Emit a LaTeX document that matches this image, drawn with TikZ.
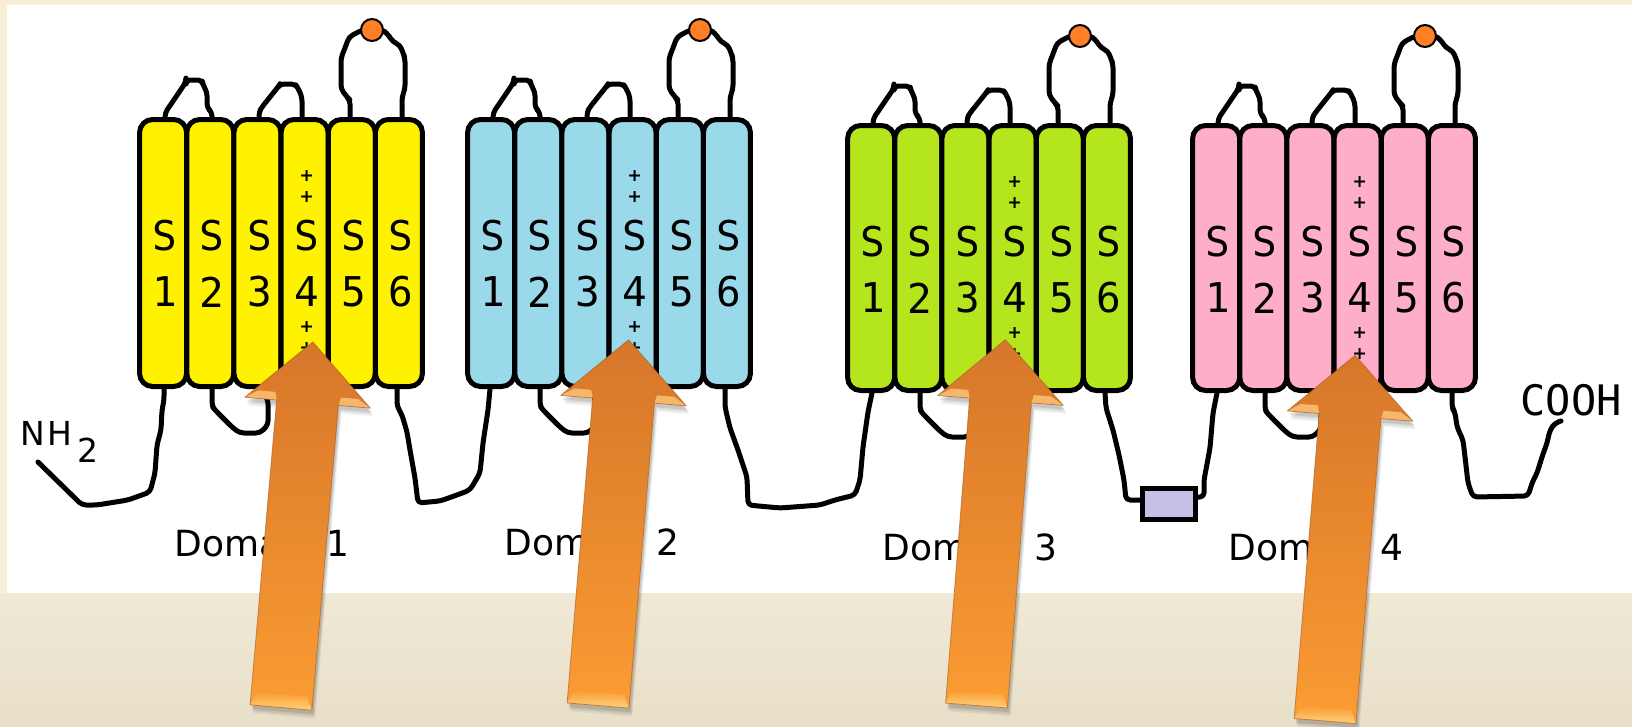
\documentclass[tikz,border=0pt]{standalone}
\usepackage{fontspec}
\newfontfamily\pixsans{DejaVu Sans}
\newfontfamily\pixsansbold{DejaVu Sans Bold}
\newfontfamily\pixmono{DejaVu Sans Mono}
\usetikzlibrary{calc}

\definecolor{paintyellow}{HTML}{FFF200}
\definecolor{paintblue}{HTML}{99D9EA}
\definecolor{paintlime}{HTML}{B5E61D}
\definecolor{paintpink}{HTML}{FFAEC9}
\definecolor{paintlav}{HTML}{C8BFE7}
\definecolor{paintorange}{HTML}{FF7F27}
\definecolor{creamtop}{HTML}{F8EDD6}
\definecolor{creamlow}{HTML}{EFE9D6}
\definecolor{creambot}{HTML}{E8DFC8}
\definecolor{arrowdark}{HTML}{D6762A}
\definecolor{arrowmid}{HTML}{EE8A2B}
\definecolor{arrowlight}{HTML}{FB9C33}
\definecolor{bevellight}{HTML}{FFD27C}
\definecolor{barblight}{HTML}{FBBE72}
\definecolor{arrowedge}{HTML}{A85A1E}

\tikzset{
  loopline/.style={line width=5pt, line join=round, line cap=round, rounded corners=4pt},
  helix/.style={draw, line width=5pt, rounded corners=13pt, minimum width=47pt,
    inner sep=0pt, outer sep=0pt},
  seglabel/.style={font=\pixmono\fontsize{41}{41}\selectfont, inner sep=0pt},
  charge/.style={font=\pixsansbold\fontsize{17.5}{21}\selectfont, inner sep=0pt, align=center},
  domlabel/.style={font=\pixsans\fontsize{36}{36}\selectfont, inner sep=0pt},
  endlabel/.style={inner sep=0pt},
  glyco/.style={circle, draw, line width=2pt, fill=paintorange, minimum size=22pt, inner sep=0pt},
  linkerbox/.style={draw, line width=5pt, fill=paintlav, minimum width=53pt,
    minimum height=31pt, inner sep=0pt}
}

% bevelled block arrow: bottom centre (x,y) and tilt angle
\newcommand\voltarrow[3]{%
  \begin{scope}[shift={(#1,#2)}, rotate=#3]
    \foreach \sx/\sy/\op in {4/8/0.06, 3/6/0.08, 2/4/0.10}{
      \fill[black, opacity=\op, shift={(\sx,\sy)}]
        (-31,0) -- (31,0) -- (31,-306) -- (63,-306) -- (0,-367) -- (-63,-306) -- (-31,-306) -- cycle;
    }
    \shade[top color=arrowdark, middle color=arrowmid, bottom color=arrowlight]
      (-31,0) -- (31,0) -- (31,-306) -- (63,-306) -- (0,-367) -- (-63,-306) -- (-31,-306) -- cycle;
    % bevel on the foot of the shaft
    \shade[top color=arrowlight, bottom color=bevellight]
      (-31,0) -- (31,0) -- (25,-13) -- (-25,-13) -- cycle;
    % bevel under the barbs
    \fill[barblight, opacity=0.9] (-63,-306) -- (-31,-306) -- (-33,-314) -- (-50,-314) -- cycle;
    \fill[barblight, opacity=0.9] (63,-306) -- (31,-306) -- (33,-314) -- (50,-314) -- cycle;
    \draw[arrowedge, line width=0.8pt, opacity=0.6, line join=round]
      (-31,0) -- (31,0) -- (31,-306) -- (63,-306) -- (0,-367) -- (-63,-306) -- (-31,-306) -- cycle;
  \end{scope}}

\begin{document}
\begin{tikzpicture}[x=1pt, y=-1pt]
  % page and panel
  \useasboundingbox (0,0) rectangle (1632,726);
  \fill[creamtop] (0,0) rectangle (1632,593);
  \shade[top color=creamlow, bottom color=creambot] (0,593) rectangle (1632,726);
  \fill[white] (7,5) rectangle (1632,593);

  % linker box between domains 3 and 4
  \node[linkerbox] (box) at (1168.5,504) {};

  % terminal labels
  \node[endlabel, anchor=base west, font=\pixsans\fontsize{33}{33}\selectfont] (nterm) at (20,445)
    {N\kern3pt H\kern5pt\raisebox{-17pt}{2}};
  \node[endlabel, font=\pixmono\fontsize{42}{42}\selectfont] (cterm) at (1571,400.5) {COOH};
  \coordinate (nend) at (38,462);
  \coordinate (cend) at (1561,421);

  % intracellular chain between the domains
  \draw[loopline] (nend) -- (82,505) -- (97,505) -- (128,500) -- (150,492) -- (155,473)
    -- (157,445) -- (161,430) -- (162,410) -- (164,400) -- (164,389);
  \draw[loopline] (397,389) -- (397,406) -- (402,415) -- (407,432) -- (410,450) -- (415,478)
    -- (418,503) -- (440,501) -- (457,495) -- (470,490) -- (480,473) -- (483,443)
    -- (488,410) -- (490,389);
  \draw[loopline] (725,389) -- (725,407) -- (730,428) -- (738,450) -- (747,477) -- (748,505)
    -- (780,508) -- (820,505) -- (835,500) -- (855,495) -- (860,480) -- (863,447)
    -- (868,412) -- (872,393);
  \draw[loopline] (1105,393) -- (1106,408) -- (1113,430) -- (1119,455) -- (1124,480)
    -- (1126,500) -- ([yshift=4pt]box.west);
  \draw[loopline] ([yshift=7pt]box.east) -- (1204,497) -- (1204,480) -- (1210,448)
    -- (1213,413) -- (1217,393);
  \draw[loopline] (1452,393) -- (1452,408) -- (1455,412) -- (1457,427) -- (1463,440)
    -- (1465,457) -- (1468,483) -- (1473,497) -- (1528,496)
    -- (1532,483) -- (1537,473) -- (1542,457) -- (1547,443) -- (1550,430) -- (1555,423)
    -- (cend);
  \node[linkerbox] at (box) {};

  % the four repeat domains
  \foreach \dn/\lft/\tp/\bt/\col in {1/137/117/389/paintyellow, 2/465/117/389/paintblue,
      3/845/123/393/paintlime, 4/1190/123/393/paintpink}{
    % extracellular loops
    \begin{scope}[shift={(\lft,\tp)}]
      \draw[loopline] (28,0) -- (28,-4) -- (49,-35) -- (49,-37) -- (65,-37) -- (66,-32)
        -- (70,-25) -- (70,-9) -- (75,-5) -- (75,0);
      \draw[loopline] (122,0) -- (122,-5) -- (125,-10) -- (141,-30) -- (143,-33) -- (158,-33)
        -- (161,-29) -- (165,-20) -- (165,0);
      \draw[loopline] (213,0) -- (213,-17) -- (210,-20) -- (204,-28) -- (204,-59) -- (208,-69)
        -- (212,-80) -- (225,-87) -- (245,-87) -- (250,-84) -- (256,-75) -- (263,-72)
        -- (266,-64) -- (268,-59) -- (268,-28) -- (265,-20) -- (265,0);
      \node[glyco] (d\dn g) at (235,-87) {};
    \end{scope}
    % intracellular S2-S3 loop
    \begin{scope}[shift={(\lft,\bt)}]
      \draw[loopline] (75,0) -- (75,17) -- (78,21) -- (96,39) -- (103,44) -- (123,44)
        -- (131,36) -- (131,11) -- (128,6) -- (128,0);
    \end{scope}
    % transmembrane segments S1-S6
    \foreach \i in {1,...,6}{
      \node[helix, fill=\col, minimum height={\bt-\tp-5}] (d\dn h\i)
        at ({\lft+2.5+47.17*\i-23.58},{(\tp+\bt)/2}) {};
      \node[seglabel] (d\dn s\i) at ({\lft+4.5+47.17*\i-23.58},{\tp+119}) {S};
      \node[seglabel] (d\dn n\i) at ({\lft+4.5+47.17*\i-23.58},{\tp+175}) {\i};
    }
    % gating charges on S4
    \node[charge] (d\dn cup) at ({\lft+4.5+47.17*4-23.58},{\tp+70}) {+\\+};
    \node[charge] (d\dn clo) at ({\lft+4.5+47.17*4-23.58},{\tp+221}) {+\\+};
  }

  % domain names
  \node[domlabel] (lab1) at (262,543) {Domain 1};
  \node[domlabel] (lab2) at (592,542) {Domain 2};
  \node[domlabel] (lab3) at (970,547) {Domain 3};
  \node[domlabel] (lab4) at (1316,547) {Domain 4};

  % arrows pointing at the S4 segments
  \voltarrow{281}{707.5}{-4.98}
  \voltarrow{598}{705.5}{-4.78}
  \voltarrow{976.5}{705.5}{-4.5}
  \voltarrow{1325}{721}{-4.7}
\end{tikzpicture}
\end{document}
